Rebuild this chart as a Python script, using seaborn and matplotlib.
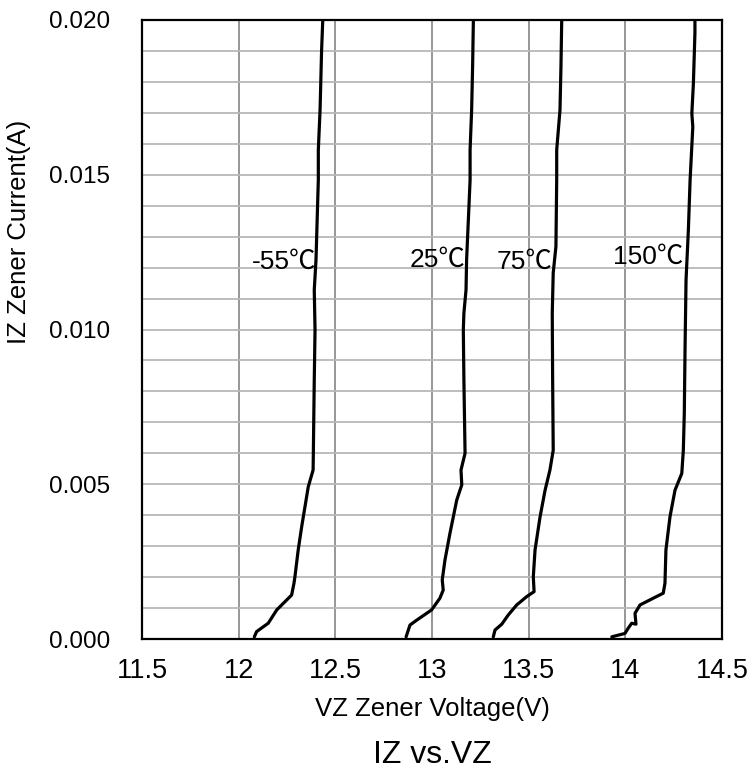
import numpy as np
import pandas as pd
import matplotlib
matplotlib.use("Agg")
import matplotlib.pyplot as plt
import seaborn as sns
from matplotlib.ticker import MultipleLocator, FuncFormatter

# ---------------- data ----------------
vz_m55 = [12.081, 12.093, 12.153, 12.197, 12.274, 12.286, 12.291, 12.308, 12.326,
          12.360, 12.385, 12.386, 12.391, 12.395, 12.391, 12.400, 12.412, 12.412,
          12.421, 12.429, 12.435]
iz_m55 = [0.00007, 0.00024, 0.00051, 0.00094, 0.00142, 0.00180, 0.00201, 0.00288,
          0.00363, 0.00492, 0.00546, 0.00588, 0.00837, 0.00998, 0.01128, 0.01225,
          0.01483, 0.01580, 0.01709, 0.01903, 0.02000]

vz_25 = [12.866, 12.886, 12.921, 12.998, 13.041, 13.058, 13.053, 13.067, 13.093,
         13.128, 13.154, 13.150, 13.171, 13.165, 13.162, 13.165, 13.176, 13.179,
         13.197, 13.197, 13.205, 13.210, 13.214]
iz_25 = [0.00007, 0.00045, 0.00061, 0.00094, 0.00132, 0.00158, 0.00191, 0.00255,
         0.00342, 0.00449, 0.00498, 0.00546, 0.00600, 0.00837, 0.00998, 0.01053,
         0.01128, 0.01225, 0.01483, 0.01580, 0.01709, 0.01849, 0.02000]

vz_75 = [13.317, 13.326, 13.361, 13.395, 13.438, 13.490, 13.528, 13.524, 13.533,
         13.559, 13.585, 13.610, 13.627, 13.624, 13.622, 13.627, 13.641, 13.645,
         13.645, 13.662, 13.667, 13.671]
iz_75 = [0.00007, 0.00029, 0.00048, 0.00078, 0.00110, 0.00137, 0.00153, 0.00201,
         0.00288, 0.00395, 0.00481, 0.00546, 0.00610, 0.00837, 0.01053, 0.01183,
         0.01268, 0.01483, 0.01580, 0.01709, 0.01849, 0.02000]

vz_150 = [13.930, 13.998, 14.015, 14.033, 14.055, 14.050, 14.076, 14.145, 14.196,
          14.205, 14.210, 14.231, 14.257, 14.292, 14.300, 14.305, 14.309, 14.314,
          14.326, 14.335, 14.349, 14.344, 14.352, 14.360, 14.360]
iz_150 = [0.00007, 0.00018, 0.00035, 0.00051, 0.00048, 0.00083, 0.00110, 0.00132,
          0.00148, 0.00180, 0.00288, 0.00395, 0.00481, 0.00535, 0.00610, 0.00730,
          0.00944, 0.01160, 0.01321, 0.01483, 0.01655, 0.01698, 0.01795, 0.01958,
          0.02000]

series_names = ["-55℃", "25℃", "75℃", "150℃"]
label_x = [12.234, 13.031, 13.481, 14.117]
label_y = [0.01218, 0.01225, 0.01218, 0.01234]

x_ticks = [11.5, 12, 12.5, 13, 13.5, 14, 14.5]
x_tick_labels = ["11.5", "12", "12.5", "13", "13.5", "14", "14.5"]
y_ticks = [0.000, 0.005, 0.010, 0.015, 0.020]

x_label = "VZ Zener Voltage(V)"
y_label = "IZ Zener Current(A)"
title = "IZ vs.VZ"

# ---------------- build frame ----------------
frames = []
for name, vz, iz in zip(series_names,
                        [vz_m55, vz_25, vz_75, vz_150],
                        [iz_m55, iz_25, iz_75, iz_150]):
    frames.append(pd.DataFrame({"VZ": vz, "IZ": iz, "T": name,
                                "order": np.arange(len(vz))}))
df = pd.concat(frames, ignore_index=True)

# ---------------- style ----------------
sns.set_style("white")
plt.rcParams["font.family"] = ["Liberation Sans", "Noto Sans CJK SC", "DejaVu Sans"]
plt.rcParams["text.color"] = "black"
plt.rcParams["axes.labelcolor"] = "black"
plt.rcParams["xtick.color"] = "black"
plt.rcParams["ytick.color"] = "black"

fig = plt.figure(figsize=(7.51, 7.69), dpi=100)
ax = fig.add_axes([142 / 751, 1 - 639 / 769, 580 / 751, 619 / 769])

sns.lineplot(data=df, x="VZ", y="IZ", units="T", estimator=None, sort=False,
             color="black", linewidth=2.3, ax=ax, legend=False)

ax.set_xlim(11.5, 14.5)
ax.set_ylim(0, 0.020)
ax.set_xticks(x_ticks)
ax.set_xticklabels(x_tick_labels)
ax.set_yticks(y_ticks)
ax.yaxis.set_minor_locator(MultipleLocator(0.001))
ax.yaxis.set_major_formatter(FuncFormatter(lambda v, p: f"{v:.3f}"))

ax.set_axisbelow(True)
ax.yaxis.grid(True, which="both", color="#b8b8b8", linewidth=1.3)
ax.xaxis.grid(True, which="major", color="#8f8f8f", linewidth=1.3)

for s in ax.spines.values():
    s.set_visible(True)
    s.set_color("black")
    s.set_linewidth(1.6)

ax.tick_params(axis="both", which="both", length=0, colors="black")
ax.tick_params(axis="x", pad=14)
ax.tick_params(axis="y", pad=23)
for t in ax.get_xticklabels():
    t.set_fontfamily(["Liberation Sans Narrow", "Liberation Sans"])
    t.set_fontsize(19.5)
    t.set_color("black")
for t in ax.get_yticklabels():
    t.set_fontsize(17.5)
    t.set_color("black")

ax.set_xlabel(x_label, fontsize=18.5, color="black")
ax.set_ylabel(y_label, fontsize=18.5, color="black")
ax.xaxis.set_label_coords(0.5, -0.094)
ax.yaxis.set_label_coords(-0.192, 0.657)

for name, lx, ly in zip(series_names, label_x, label_y):
    ax.text(lx, ly, name, ha="center", va="center", fontsize=19, color="black",
            family=["Liberation Sans", "Noto Sans CJK SC", "DejaVu Sans"])

fig.text(432 / 751, 1 - 763 / 769, title, ha="center", va="baseline",
         fontsize=23, color="black")

fig.savefig("out.png", dpi=100)
